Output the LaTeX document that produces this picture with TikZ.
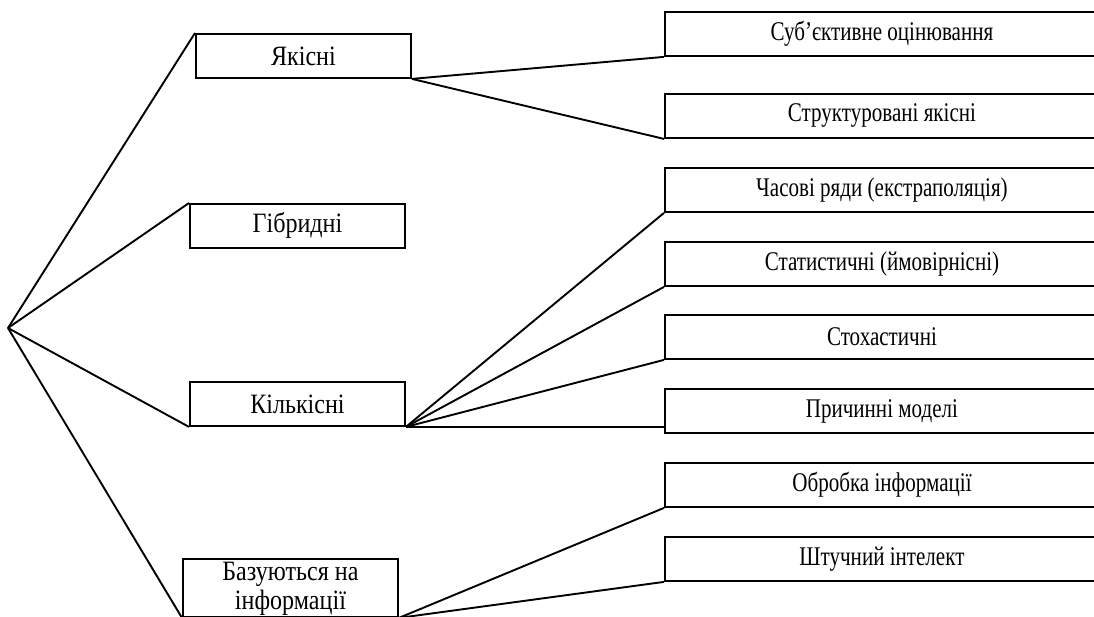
\documentclass[tikz,border=0pt]{standalone}
\usepackage{fontspec}
\setmainfont{Liberation Serif}
% the group titles are set wider than the subgroup titles
\newfontfamily\grouplbl[FakeStretch=0.86]{Liberation Serif}
\newfontfamily\subgrouplbl[FakeStretch=0.78]{Liberation Serif}
\begin{document}
\begin{tikzpicture}[x=1pt,y=-1pt,
  group text/.style={font=\grouplbl\fontsize{28}{29}\selectfont, align=center},
  subgroup text/.style={font=\subgrouplbl\fontsize{27}{29}\selectfont, align=center},
  box/.style={draw, line width=1.9pt, rectangle, inner sep=0pt, anchor=north west},
  mainbox/.style={box, group text, minimum width=215pt, minimum height=44pt},
  subbox/.style={box, subgroup text, minimum width=434pt, minimum height=44pt},
  link/.style={line width=1.9pt, line join=round}]
\clip (0,0) rectangle (1094,617);

% root of the classification
\coordinate (root) at (8,328);

% main groups
\node[mainbox] (yak) at (195,33)  {Якісні};
\node[mainbox] (gib) at (189,203) {Гібридні};
\node[mainbox] (kil) at (189,381) {Кількісні};
\node[mainbox, minimum height=58pt] (baz) at (182,558) {};
\node[group text, inner sep=0pt, anchor=north] (baztext)
  at ([yshift=-4pt]baz.north) {Базуються на\\інформації};

% subgroups
\node[subbox] (s1) at (664,11)  {Суб’єктивне оцінювання};
\node[subbox] (s2) at (664,93)  {Структуровані якісні};
\node[subbox] (s3) at (664,167) {Часові ряди (екстраполяція)};
\node[subbox] (s4) at (664,241) {Статистичні (ймовірнісні)};
\node[subbox] (s5) at (664,314) {Стохастичні};
\node[subbox] (s6) at (664,388) {Причинні моделі};
\node[subbox] (s7) at (664,462) {Обробка інформації};
\node[subbox] (s8) at (664,536) {Штучний інтелект};

% connectors from the root
\draw[link] (root) -- (yak.north west);
\draw[link] (root) -- (gib.north west);
\draw[link] (root) -- (kil.south west);
\draw[link] (root) -- (baz.south west);

% connectors to the subgroups
\draw[link] (yak.south east) -- (s1.south west);
\draw[link] (yak.south east) -- (s2.south west);
\draw[link] (kil.south east) -- (s3.south west);
\draw[link] (kil.south east) -- (s4.south west);
\draw[link] (kil.south east) -- (s5.south west);
\draw[link] (kil.south east) -- (s6.west |- kil.south east);
\draw[link] (baz.south east) -- (s7.south west);
\draw[link] (baz.south east) -- (s8.south west);
\end{tikzpicture}
\end{document}
